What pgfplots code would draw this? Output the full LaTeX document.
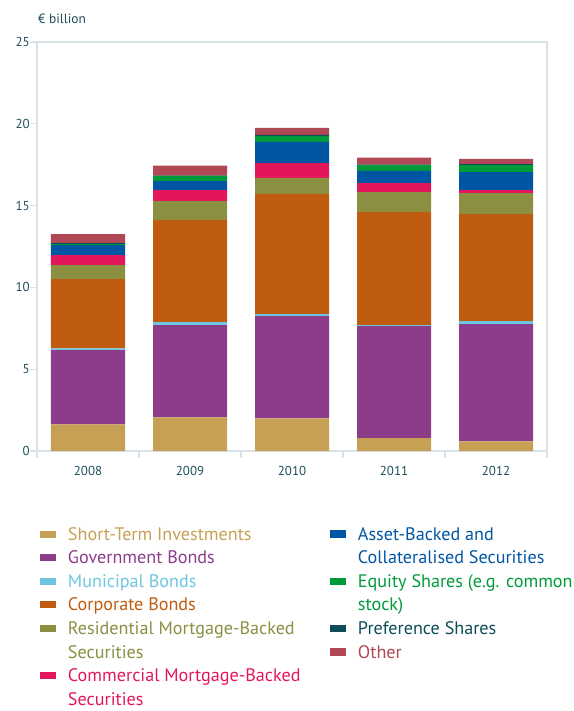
\documentclass[border=0pt]{standalone}
\usepackage{pgfplots}
\pgfplotsset{compat=1.18}
\usepackage{fontspec}
\setmainfont{PT Sans}

\definecolor{cShort}{HTML}{C6A055}
\definecolor{cGov}{HTML}{8D3C8A}
\definecolor{cMuni}{HTML}{6DC6E0}
\definecolor{cCorp}{HTML}{C05C10}
\definecolor{cRMBS}{HTML}{8A8F42}
\definecolor{cCMBS}{HTML}{E4165A}
\definecolor{cABS}{HTML}{0056A3}
\definecolor{cEq}{HTML}{009A3A}
\definecolor{cPref}{HTML}{0F4C59}
\definecolor{cOther}{HTML}{B04855}
\definecolor{frame}{HTML}{D8E2E6}
\definecolor{txt}{HTML}{1E4F5C}

\pgfplotsset{
  leg/.style={
    legend image code/.code={\fill[##1] (0bp,-3.5bp) rectangle (16bp,3.5bp);},
    legend cell align=left,
    legend style={draw=none, fill=none, inner sep=0pt, outer sep=0pt,
      column sep=12bp, row sep=9.6bp,
      font=\fontsize{18.2}{21}\selectfont,
      nodes={inner sep=0pt, text height=13bp, text depth=1bp}},
  },
}

\begin{document}
\begin{tikzpicture}
\begin{axis}[
    name=main,
    scale only axis,
    width=510bp, height=409bp,
    ybar stacked,
    bar width=74bp,
    xmin=-0.5, xmax=4.5,
    ymin=0, ymax=25,
    axis line style={frame, line width=1.3bp},
    every tick/.style={frame, line width=1.3bp},
    tick align=outside,
    xtick={0,1,2,3,4},
    xticklabels={2008,2009,2010,2011,2012},
    major x tick style={draw=none},
    minor xtick={-0.5,0.5,1.5,2.5,3.5,4.5},
    minor tick length=7bp,
    major tick length=7bp,
    ytick={0,5,...,25},
    ytick pos=left, xtick pos=bottom,
    /pgf/number format/assume math mode=true,
    tick label style={font=\fontsize{13}{15}\selectfont, text=txt, inner sep=0pt},
    yticklabel style={anchor=east},
    xticklabel style={anchor=north, yshift=-8bp},
    ylabel={€ billion},
    every axis y label/.style={at={(axis description cs:0,1)}, anchor=base west,
      yshift=19bp, xshift=1bp, font=\fontsize{13.5}{16}\selectfont, text=txt, inner sep=0pt},
    leg,
    legend style={at={(axis description cs:0.00588,-0.1858)}, anchor=north west},
]
\addplot[fill=cShort, draw=none] coordinates {(0,1.63) (1,2.06) (2,2.00) (3,0.78) (4,0.59)};
\addlegendentry{\textcolor{cShort}{Short-Term Investments}}
\addplot[fill=cGov, draw=none] coordinates {(0,4.53) (1,5.63) (2,6.24) (3,6.85) (4,7.16)};
\addlegendentry{\textcolor{cGov}{Government Bonds}}
\addplot[fill=cMuni, draw=none] coordinates {(0,0.12) (1,0.18) (2,0.12) (3,0.06) (4,0.19)};
\addlegendentry{\textcolor{cMuni}{Municipal Bonds}}
\addplot[fill=cCorp, draw=none] coordinates {(0,4.23) (1,6.25) (2,7.35) (3,6.92) (4,6.54)};
\addlegendentry{\textcolor{cCorp}{Corporate Bonds}}
\addplot[fill=cRMBS, draw=none] coordinates {(0,0.85) (1,1.16) (2,0.98) (3,1.22) (4,1.29)};
\addlegendentry{\textcolor{cRMBS}{Residential Mortgage-Backed}}
\addlegendimage{empty legend}
\addlegendentry{\textcolor{cRMBS}{Securities}}
\addplot[fill=cCMBS, draw=none] coordinates {(0,0.61) (1,0.67) (2,0.91) (3,0.55) (4,0.18)};
\addlegendentry{\textcolor{cCMBS}{Commercial Mortgage-Backed}}
\addlegendimage{empty legend}
\addlegendentry{\textcolor{cCMBS}{Securities}}
\addplot[fill=cABS, draw=none] coordinates {(0,0.62) (1,0.55) (2,1.29) (3,0.74) (4,1.10)};
\addplot[fill=cEq, draw=none] coordinates {(0,0.06) (1,0.31) (2,0.37) (3,0.36) (4,0.43)};
\addplot[fill=cPref, draw=none] coordinates {(0,0.06) (1,0.02) (2,0.06) (3,0.02) (4,0.06)};
\addplot[fill=cOther, draw=none] coordinates {(0,0.55) (1,0.61) (2,0.43) (3,0.43) (4,0.31)};
\end{axis}

\begin{axis}[
    at={(main.south west)}, anchor=south west,
    scale only axis,
    width=510bp, height=409bp,
    hide axis,
    xmin=0, xmax=1, ymin=0, ymax=1,
    leg,
    legend style={at={(axis description cs:0.5745,-0.1858)}, anchor=north west},
]
\addlegendimage{fill=cABS, draw=none}
\addlegendentry{\textcolor{cABS}{Asset-Backed and}}
\addlegendimage{empty legend}
\addlegendentry{\textcolor{cABS}{Collateralised Securities}}
\addlegendimage{fill=cEq, draw=none}
\addlegendentry{\textcolor{cEq}{Equity Shares (e.g. common}}
\addlegendimage{empty legend}
\addlegendentry{\textcolor{cEq}{stock)}}
\addlegendimage{fill=cPref, draw=none}
\addlegendentry{\textcolor{cPref}{Preference Shares}}
\addlegendimage{fill=cOther, draw=none}
\addlegendentry{\textcolor{cOther}{Other}}
\end{axis}

\pgfresetboundingbox
\path (main.south west) ++(-37bp,-260bp) rectangle ++(574bp,711bp);
\end{tikzpicture}
\end{document}
